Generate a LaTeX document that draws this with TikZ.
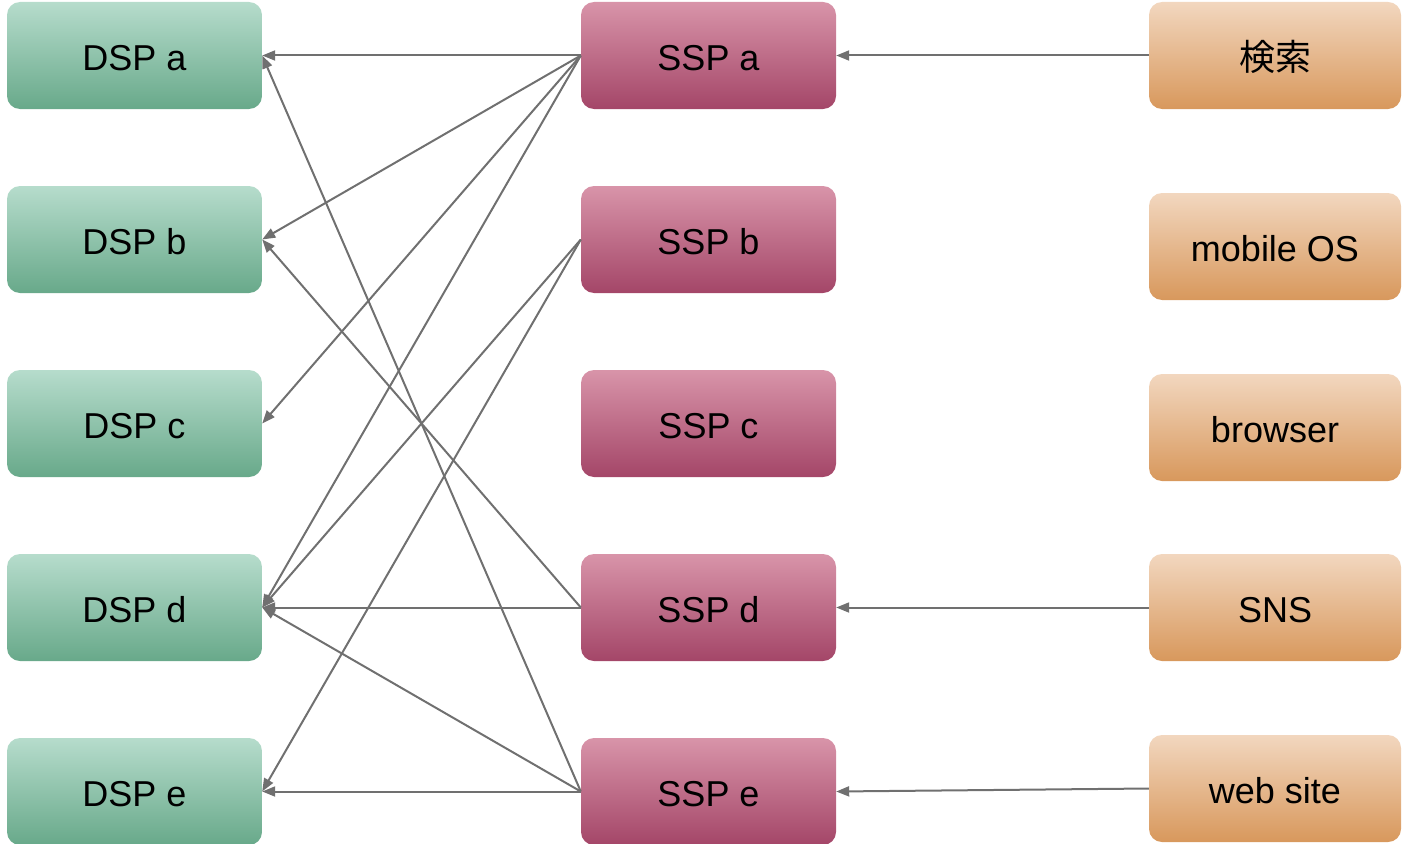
\documentclass[tikz,border=0pt]{standalone}
\usepackage{fontspec}
\setmainfont{Liberation Sans}
\newfontfamily\cjk{Noto Sans CJK JP}
\usetikzlibrary{arrows.meta}
\definecolor{dsptop}{HTML}{B6DCCC}
\definecolor{dspbot}{HTML}{68A98A}
\definecolor{ssptop}{HTML}{D894A9}
\definecolor{sspbot}{HTML}{A44668}
\definecolor{srctop}{HTML}{F2D7BF}
\definecolor{srcbot}{HTML}{D8985C}
\definecolor{link}{HTML}{707070}
\tikzset{
  card/.style={minimum width=255pt, minimum height=107pt, rounded corners=13pt,
    inner sep=0pt, font=\fontsize{36}{40}\selectfont, text=black,
    text height=30pt, text depth=0pt},
  dspbox/.style={card, top color=dsptop, bottom color=dspbot},
  sspbox/.style={card, top color=ssptop, bottom color=sspbot},
  srcbox/.style={card, minimum width=252pt, top color=srctop, bottom color=srcbot},
  flow/.style={draw=link, line width=2pt, -{Triangle[length=13pt,width=10pt]}}
}
\begin{document}
\begin{tikzpicture}[x=1pt, y=-1pt]
\useasboundingbox (0,0) rectangle (1402,843);
% demand side platforms
\node[dspbox] (da) at (134.5,55.5) {DSP a};
\node[dspbox] (db) at (134.5,239.5) {DSP b};
\node[dspbox] (dc) at (134.5,423.5) {DSP c};
\node[dspbox] (dd) at (134.5,607.5) {DSP d};
\node[dspbox] (de) at (134.5,791.5) {DSP e};
% supply side platforms
\node[sspbox] (sa) at (708.5,55.5) {SSP a};
\node[sspbox] (sb) at (708.5,239.5) {SSP b};
\node[sspbox] (sc) at (708.5,423.5) {SSP c};
\node[sspbox] (sd) at (708.5,607.5) {SSP d};
\node[sspbox] (se) at (708.5,791.5) {SSP e};
% media
\node[srcbox] (search) at (1275,55.5) {\cjk 検索};
\node[srcbox] (mobile) at (1275,246.5) {mobile OS};
\node[srcbox] (browser) at (1275,427.5) {browser};
\node[srcbox] (sns) at (1275,607.5) {SNS};
\node[srcbox] (web) at (1275,788.5) {web site};
% SSP -> DSP links
\draw[flow] (sa.west) -- (da.east);
\draw[flow] (sa.west) -- (db.east);
\draw[flow] (sa.west) -- (dc.east);
\draw[flow] (sa.west) -- (dd.east);
\draw[flow] (sb.west) -- (dd.east);
\draw[flow] (sb.west) -- (de.east);
\draw[flow] (sd.west) -- (db.east);
\draw[flow] (sd.west) -- (dd.east);
\draw[flow] (se.west) -- (da.east);
\draw[flow] (se.west) -- (dd.east);
\draw[flow] (se.west) -- (de.east);
% media -> SSP links
\draw[flow] (search.west) -- (sa.east);
\draw[flow] (sns.west) -- (sd.east);
\draw[flow] (web.west) -- (se.east);
\end{tikzpicture}
\end{document}
